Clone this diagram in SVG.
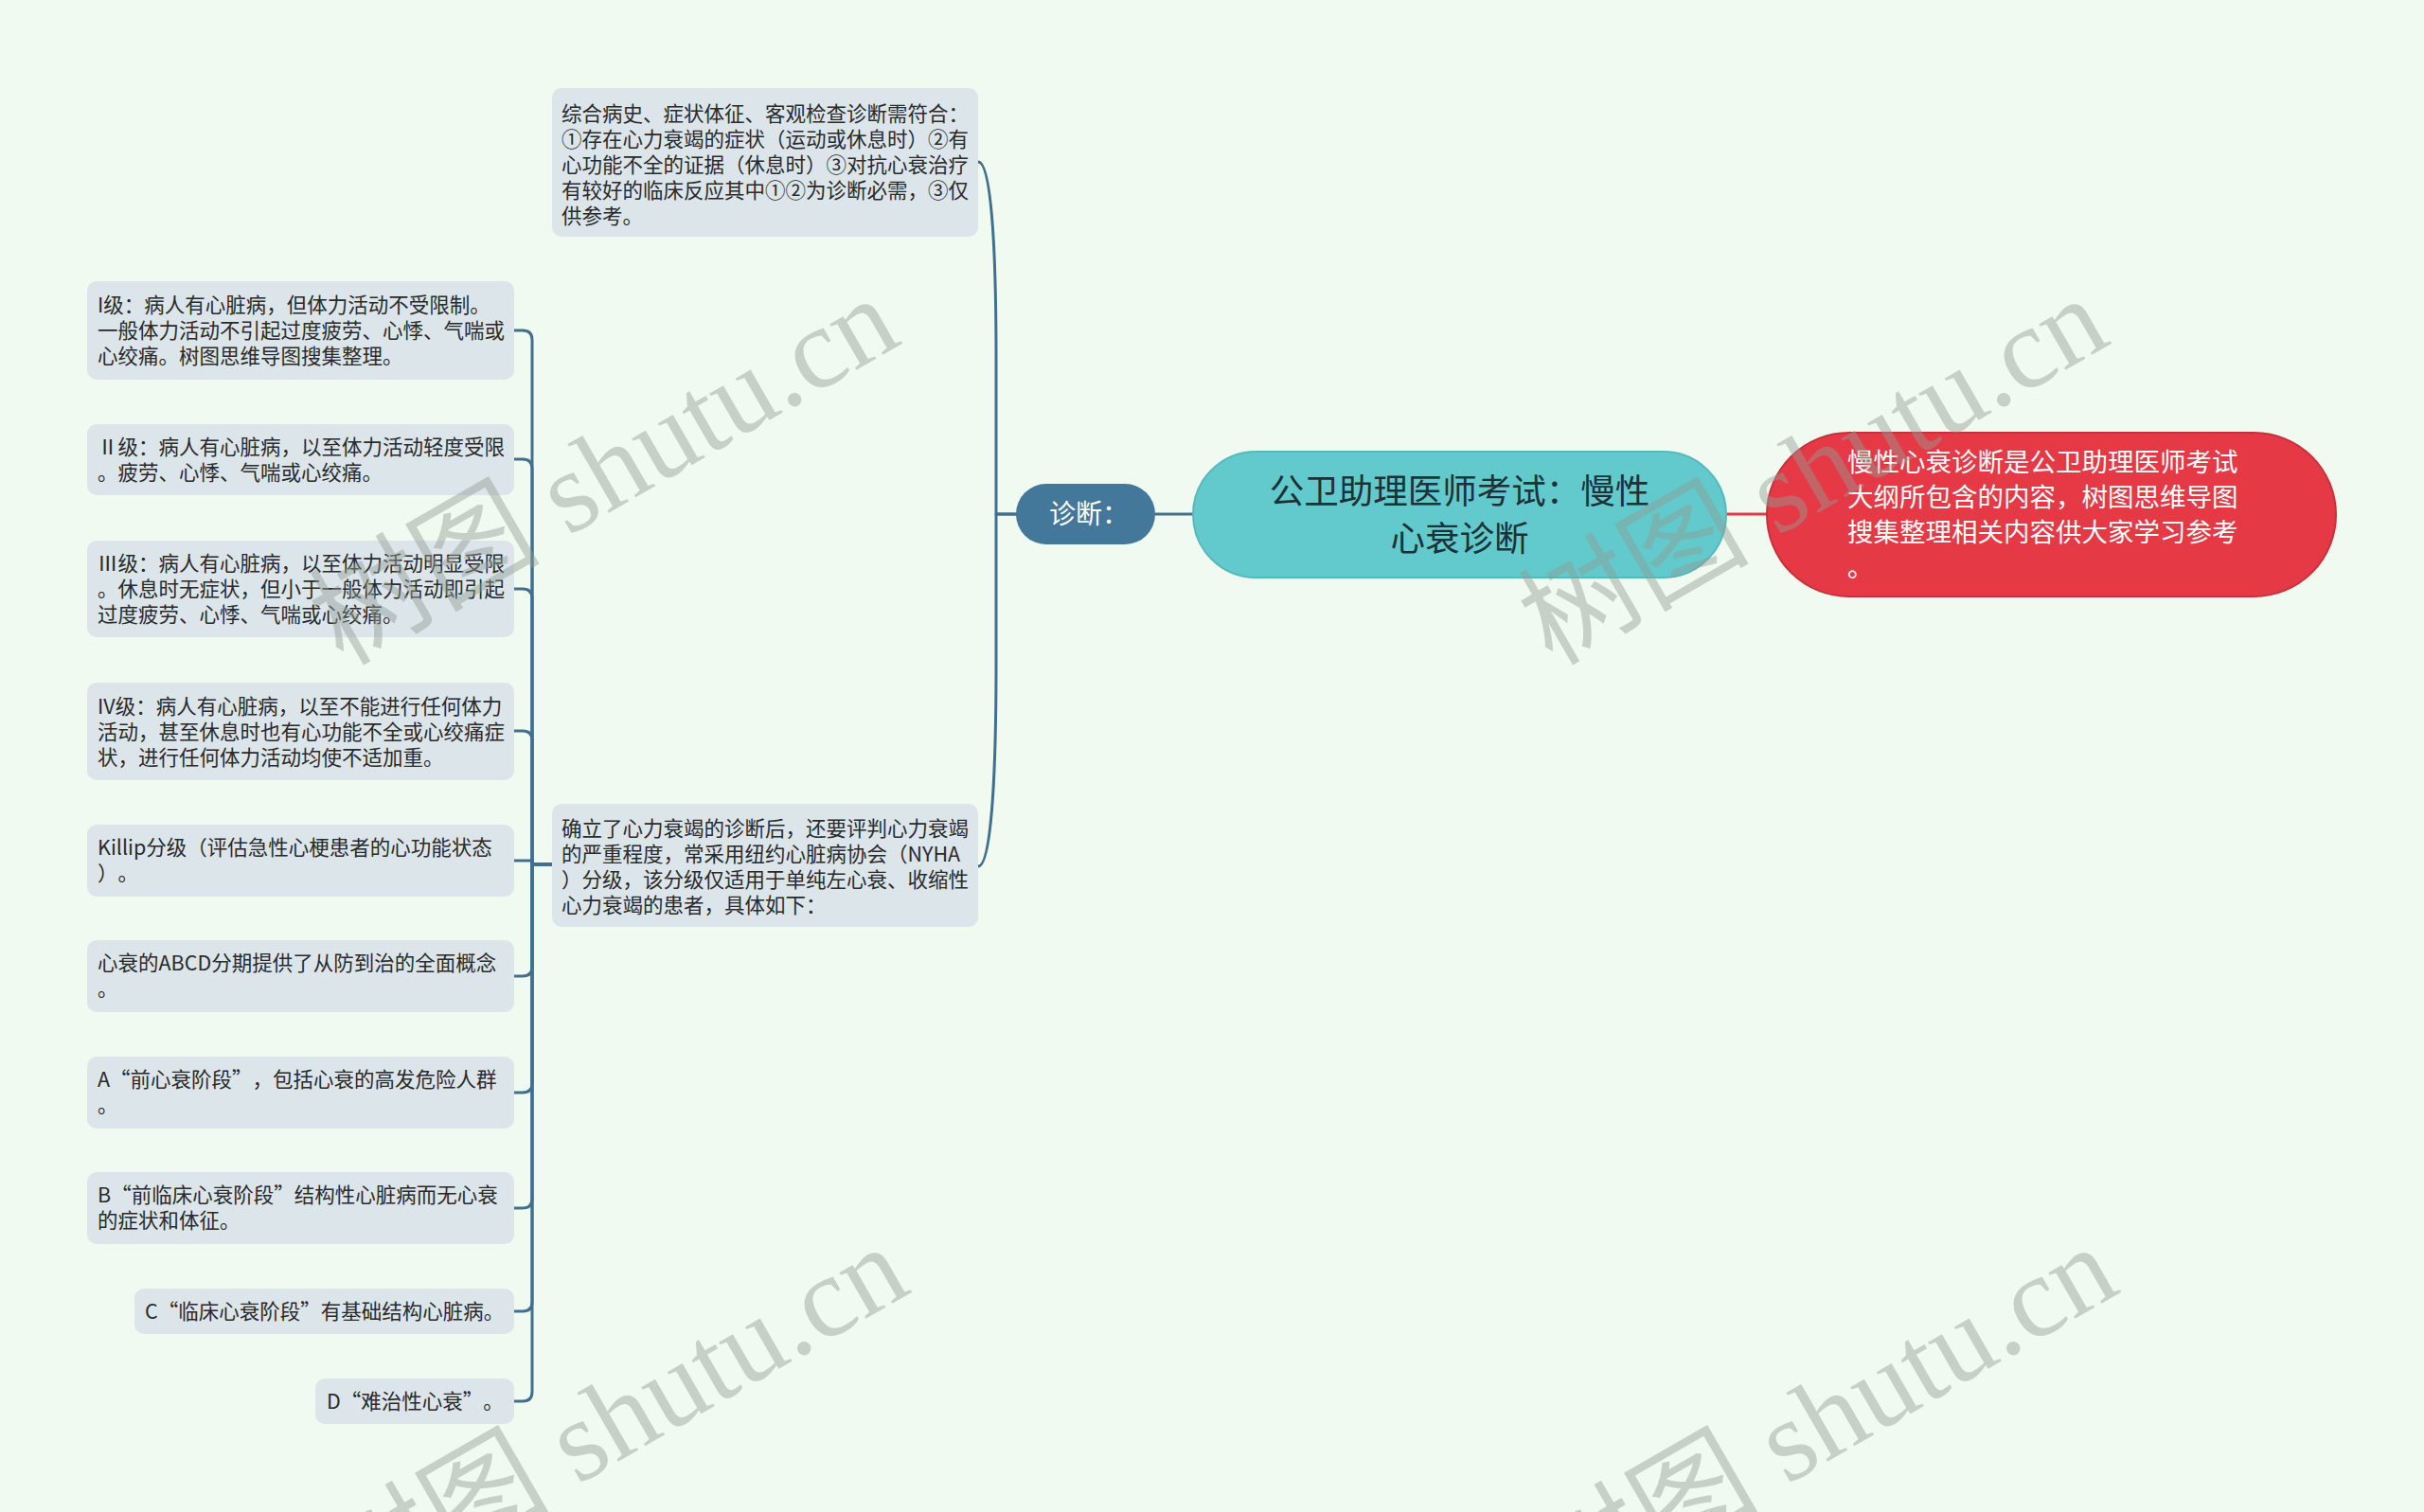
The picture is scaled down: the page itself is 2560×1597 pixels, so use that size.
<svg xmlns="http://www.w3.org/2000/svg" width="2560" height="1597" viewBox="0 0 2560 1597">
<style>
text{text-spacing-trim:space-all}
.bg{fill:#f1faf0}
.box{fill:#dbe5ea}
.t{font-family:"Noto Sans CJK SC","Liberation Sans",sans-serif;font-size:21.5px;fill:#2a2a2a}
.conn{fill:none;stroke:#41708f;stroke-width:3;stroke-linecap:round;stroke-linejoin:round}
.red{fill:none;stroke:#e03a48;stroke-width:3}
.wm{font-family:"Liberation Serif","Noto Sans CJK SC",serif;font-size:122px;fill:#929e94;fill-opacity:0.45}
</style>
<rect class="bg" x="0" y="0" width="2560" height="1597"/>

<g id="connectors">
  <line class="red" x1="1823" y1="543" x2="1866" y2="543"/>
  <line class="conn" x1="1220" y1="543" x2="1260" y2="543"/>
  <path class="conn" d="M1073,543 H1052 V380 C1052,250 1046,171 1033,171"/>
  <path class="conn" d="M1073,543 H1052 V700 C1052,830 1046,915 1033,915"/>
  <path class="conn" d="M583,913 H562 V359 Q562,349 552,349 H543"/>
  <path class="conn" d="M583,913 H562 V495 Q562,485 552,485 H543"/>
  <path class="conn" d="M583,913 H562 V632 Q562,622 552,622 H543"/>
  <path class="conn" d="M583,913 H562 V782 Q562,772 552,772 H543"/>
  <path class="conn" d="M583,913 H562 V909 Q562,909 552,909 H543"/>
  <path class="conn" d="M583,913 H562 V1021 Q562,1031 552,1031 H543"/>
  <path class="conn" d="M583,913 H562 V1144 Q562,1154 552,1154 H543"/>
  <path class="conn" d="M583,913 H562 V1266 Q562,1276 552,1276 H543"/>
  <path class="conn" d="M583,913 H562 V1375 Q562,1385 552,1385 H543"/>
  <path class="conn" d="M583,913 H562 V1470 Q562,1480 552,1480 H543"/>
</g>

<g id="root">
  <rect x="1260" y="477" width="563" height="133" rx="66.5" fill="#62c9cc" stroke="#57b9bc" stroke-width="2"/>
  <text x="1541.5" y="532" text-anchor="middle" style="font-family:'Noto Sans CJK SC',sans-serif;font-size:36.5px;fill:#1c3236">公卫助理医师考试：慢性</text>
  <text x="1541.5" y="582" text-anchor="middle" style="font-family:'Noto Sans CJK SC',sans-serif;font-size:36.5px;fill:#1c3236">心衰诊断</text>
</g>

<g id="summary">
  <rect x="1866" y="457" width="601" height="173" rx="86.5" fill="#e63946" stroke="#c8303c" stroke-width="2"/>
  <g style="font-family:'Noto Sans CJK SC',sans-serif;font-size:27.5px;fill:#ffffff">
    <text x="1951" y="498">慢性心衰诊断是公卫助理医师考试</text>
    <text x="1951" y="535">大纲所包含的内容，树图思维导图</text>
    <text x="1951" y="572">搜集整理相关内容供大家学习参考</text>
    <text x="1951" y="609">。</text>
  </g>
</g>

<g id="diag">
  <rect x="1073" y="511" width="147" height="64" rx="32" fill="#43789a"/>
  <text x="1150" y="553" text-anchor="middle" style="font-family:'Noto Sans CJK SC',sans-serif;font-size:28px;fill:#ffffff">诊断：</text>
</g>

<g id="criteria">
  <rect class="box" x="583" y="93" width="450" height="157" rx="10"/>
  <text class="t" x="593" y="127.5">综合病史、症状体征、客观检查诊断需符合：</text>
  <text class="t" x="593" y="154.5">①存在心力衰竭的症状（运动或休息时）②有</text>
  <text class="t" x="593" y="181.5">心功能不全的证据（休息时）③对抗心衰治疗</text>
  <text class="t" x="593" y="208.5">有较好的临床反应其中①②为诊断必需，③仅</text>
  <text class="t" x="593" y="235.5">供参考。</text>
</g>

<g id="nyha">
  <rect class="box" x="583" y="849" width="450" height="130" rx="10"/>
  <text class="t" x="593" y="882.5">确立了心力衰竭的诊断后，还要评判心力衰竭</text>
  <text class="t" x="593" y="909.5">的严重程度，常采用纽约心脏病协会（NYHA</text>
  <text class="t" x="593" y="936.5">）分级，该分级仅适用于单纯左心衰、收缩性</text>
  <text class="t" x="593" y="963.5">心力衰竭的患者，具体如下：</text>
</g>

<g id="grade1">
  <rect class="box" x="92" y="297" width="451" height="104" rx="10"/>
  <text class="t" x="103" y="329.5">I级：病人有心脏病，但体力活动不受限制。</text>
  <text class="t" x="103" y="356.5">一般体力活动不引起过度疲劳、心悸、气喘或</text>
  <text class="t" x="103" y="383.5">心绞痛。树图思维导图搜集整理。</text>
</g>

<g id="grade2">
  <rect class="box" x="92" y="448" width="451" height="75" rx="10"/>
  <text class="t" x="103" y="479.5">Ⅱ级：病人有心脏病，以至体力活动轻度受限</text>
  <text class="t" x="103" y="506.5">。疲劳、心悸、气喘或心绞痛。</text>
</g>

<g id="grade3">
  <rect class="box" x="92" y="571" width="451" height="102" rx="10"/>
  <text class="t" x="103" y="602.5">Ⅲ级：病人有心脏病，以至体力活动明显受限</text>
  <text class="t" x="103" y="629.5">。休息时无症状，但小于一般体力活动即引起</text>
  <text class="t" x="103" y="656.5">过度疲劳、心悸、气喘或心绞痛。</text>
</g>

<g id="grade4">
  <rect class="box" x="92" y="721" width="451" height="103" rx="10"/>
  <text class="t" x="103" y="753.5">IV级：病人有心脏病，以至不能进行任何体力</text>
  <text class="t" x="103" y="780.5">活动，甚至休息时也有心功能不全或心绞痛症</text>
  <text class="t" x="103" y="807.5">状，进行任何体力活动均使不适加重。</text>
</g>

<g id="killip">
  <rect class="box" x="92" y="871" width="451" height="76" rx="10"/>
  <text class="t" x="103" y="903">Killip分级（评估急性心梗患者的心功能状态</text>
  <text class="t" x="103" y="930">）。</text>
</g>

<g id="abcd">
  <rect class="box" x="92" y="993" width="451" height="76" rx="10"/>
  <text class="t" x="103" y="1025">心衰的ABCD分期提供了从防到治的全面概念</text>
  <text class="t" x="103" y="1052">。</text>
</g>

<g id="stageA">
  <rect class="box" x="92" y="1116" width="451" height="76" rx="10"/>
  <text class="t" x="103" y="1148">A“前心衰阶段”，包括心衰的高发危险人群</text>
  <text class="t" x="103" y="1175">。</text>
</g>

<g id="stageB">
  <rect class="box" x="92" y="1238" width="451" height="76" rx="10"/>
  <text class="t" x="103" y="1270">B“前临床心衰阶段”结构性心脏病而无心衰</text>
  <text class="t" x="103" y="1297">的症状和体征。</text>
</g>

<g id="stageC">
  <rect class="box" x="142" y="1361" width="401" height="48" rx="10"/>
  <text class="t" x="153" y="1392.5">C“临床心衰阶段”有基础结构心脏病。</text>
</g>

<g id="stageD">
  <rect class="box" x="333" y="1456" width="210" height="48" rx="10"/>
  <text class="t" x="345" y="1487.5">D“难治性心衰”。</text>
</g>

<g id="watermarks">
  <text class="wm" transform="translate(362,704) rotate(-30)">树图 shutu.cn</text>
  <text class="wm" transform="translate(1639,704) rotate(-30)">树图 shutu.cn</text>
  <text class="wm" transform="translate(372,1706) rotate(-30)">树图 shutu.cn</text>
  <text class="wm" transform="translate(1649,1706) rotate(-30)">树图 shutu.cn</text>
</g>
</svg>
